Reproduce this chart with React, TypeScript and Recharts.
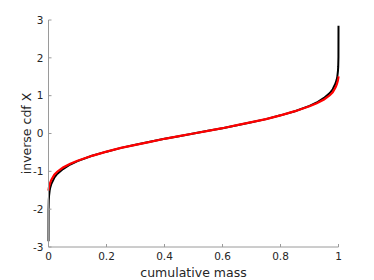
import React from 'react';
import { LineChart, Line, XAxis, YAxis, Label } from 'recharts';

// cumulative mass (x) and the two inverse cdf curves
const mass = [
  0, 0.0002, 0.001, 0.002, 0.004, 0.006, 0.01, 0.02, 0.03, 0.05, 0.075, 0.1, 0.15, 0.2, 0.25, 0.3, 0.35, 0.4, 0.45, 0.5,
  0.55, 0.6, 0.65, 0.7, 0.75, 0.8, 0.85, 0.9, 0.925, 0.95, 0.97, 0.98, 0.99, 0.994, 0.996, 0.998, 0.999, 0.9998, 1
];
const exact = [
  -2.85, -2.02, -1.76, -1.64, -1.51, -1.43, -1.33, -1.17, -1.07, -0.94, -0.82, -0.73, -0.59, -0.48, -0.38, -0.3, -0.22, -0.14, -0.07, 0,
  0.07, 0.14, 0.22, 0.3, 0.38, 0.48, 0.59, 0.73, 0.82, 0.94, 1.07, 1.17, 1.33, 1.43, 1.51, 1.64, 1.76, 2.02, 2.85
];
const approx = [
  -1.51, -1.49, -1.45, -1.41, -1.35, -1.3, -1.22, -1.09, -1.01, -0.9, -0.8, -0.72, -0.59, -0.48, -0.38, -0.3, -0.22, -0.14, -0.07, 0,
  0.07, 0.14, 0.22, 0.3, 0.38, 0.48, 0.59, 0.72, 0.8, 0.9, 1.01, 1.09, 1.22, 1.3, 1.35, 1.41, 1.45, 1.49, 1.51
];

const xTicks = [0, 0.2, 0.4, 0.6, 0.8, 1];
const yTicks = [-3, -2, -1, 0, 1, 2, 3];

const data = mass.map((m, i) => ({ mass: m, exact: exact[i], approx: approx[i] }));

const FONT = 'DejaVu Sans';
const AXIS = '#9a9a9a';
const TEXT = '#262626';

const XTick = ({ x, y, payload }: any) => (
  <g>
    <line x1={x} x2={x} y1={y} y2={y - 3} stroke={AXIS} />
    <text x={x} y={y + 12.5} textAnchor="middle" fill={TEXT} fontSize={10.5} fontFamily={FONT}>
      {String(payload.value)}
    </text>
  </g>
);

const YTick = ({ x, y, payload }: any) => (
  <g>
    <line x1={x} x2={x + 3} y1={y} y2={y} stroke={AXIS} />
    <text x={x - 5} y={y + 3.8} textAnchor="end" fill={TEXT} fontSize={10.5} fontFamily={FONT}>
      {String(payload.value)}
    </text>
  </g>
);

export default function App() {
  return (
    <div style={{ position: 'absolute', left: 0, top: 0, background: '#fff' }}>
      <LineChart width={374} height={280} data={data} margin={{ top: 20, right: 35.5, bottom: 3, left: 0 }}>
        <XAxis
          dataKey="mass"
          type="number"
          domain={[0, 1]}
          ticks={xTicks}
          height={30}
          tickSize={0}
          tickMargin={0}
          tickLine={false}
          axisLine={{ stroke: AXIS }}
          tick={<XTick />}
        >
          <Label
            value="cumulative mass"
            position="insideBottom"
            offset={0.5}
            fill={TEXT}
            style={{ fontSize: 12.5, fontFamily: FONT, textAnchor: 'middle' }}
          />
        </XAxis>
        <YAxis
          type="number"
          domain={[-3, 3]}
          ticks={yTicks}
          width={48.5}
          tickSize={0}
          tickMargin={0}
          tickLine={false}
          axisLine={{ stroke: AXIS }}
          tick={<YTick />}
        >
          <Label
            value="inverse cdf X"
            angle={-90}
            position="insideLeft"
            offset={26.5}
            fill={TEXT}
            style={{ fontSize: 12.5, fontFamily: FONT, textAnchor: 'middle' }}
          />
        </YAxis>
        <Line type="linear" dataKey="exact" stroke="#000" strokeWidth={2} dot={false} isAnimationActive={false} />
        <Line type="linear" dataKey="approx" stroke="#ff0000" strokeWidth={2.2} dot={false} isAnimationActive={false} />
      </LineChart>
    </div>
  );
}
